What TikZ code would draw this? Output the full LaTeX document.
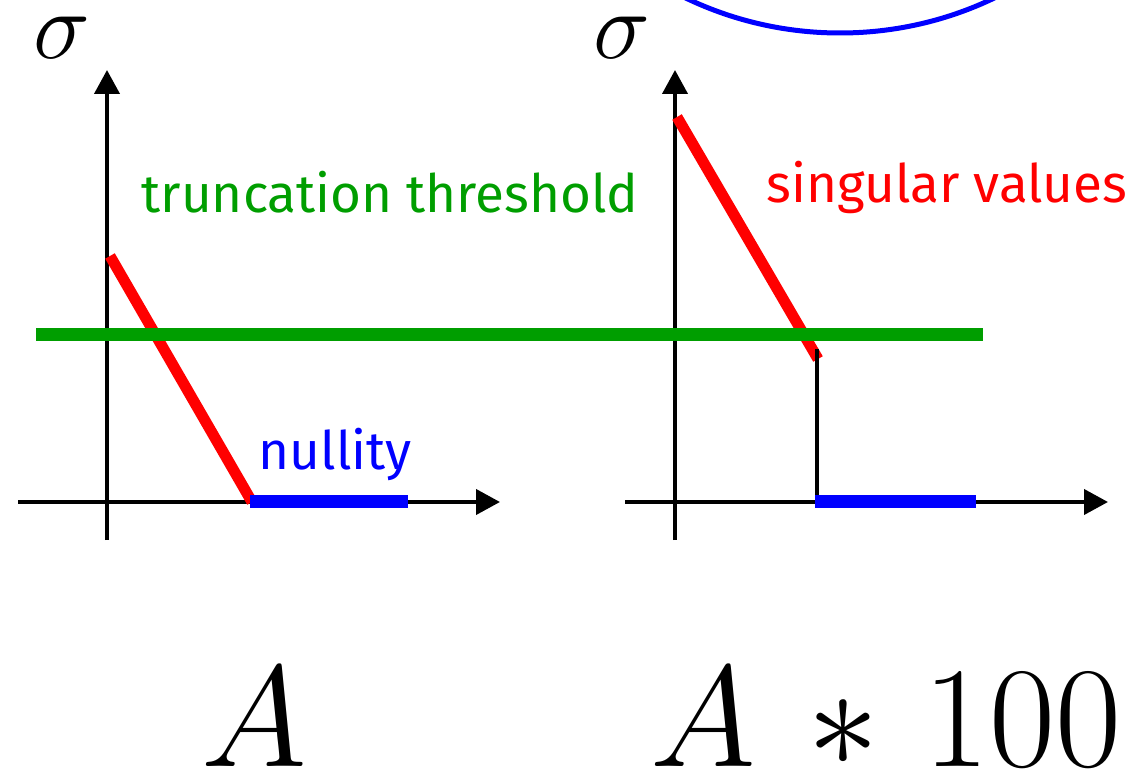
\documentclass[tikz,border=0pt]{standalone}
\usepackage{fontspec}
\setmainfont{Fira Sans}
\usepackage{xcolor}
\usepackage{tikz}
\usetikzlibrary{arrows.meta,positioning}
\definecolor{thrgreen}{RGB}{0,158,0}

\begin{document}
\begin{tikzpicture}[
  x=0.5pt, y=-0.5pt,
  axis/.style={line width=2pt, -{Triangle[length=12pt, width=12.5pt]}},
  sv/.style={red, line width=5.5pt},
  thr/.style={thrgreen, line width=6.5pt},
  nul/.style={blue, line width=6.5pt},
  lbl/.style={inner sep=0pt, anchor=base, font=\fontsize{26.5}{30}\selectfont},
  sig/.style={inner sep=0pt, anchor=base, font=\Huge, scale=1.93},
  mat/.style={inner sep=0pt, anchor=base, font=\Huge, scale=2.89}
]
  \useasboundingbox (0,0) rectangle (1128,774);
  % blue arc at the top, cut by the page edge
  \begin{scope}
    \clip (0,0) rectangle (1128,774);
    \draw[blue, line width=2.5pt] (840,-324) circle[radius=357];
  \end{scope}

  % left plot: A
  \coordinate (ly0) at (107,540);
  \coordinate (ly1) at (107,70);
  \coordinate (lx0) at (18,502);
  \coordinate (lx1) at (500,502);
  \draw[axis] (ly0) -- (ly1);
  \draw[axis] (lx0) -- (lx1);
  \coordinate (ls0) at (110,256);
  \coordinate (ls1) at (252,502);
  \draw[sv] (ls0) -- (ls1);

  % right plot: A*100
  \coordinate (ry0) at (675,540);
  \coordinate (ry1) at (675,70);
  \coordinate (rx0) at (625,502);
  \coordinate (rx1) at (1108,502);
  \draw[axis] (ry0) -- (ry1);
  \draw[axis] (rx0) -- (rx1);
  \coordinate (rs0) at (677,117);
  \coordinate (rs1) at (818,359);
  \draw[sv] (rs0) -- (rs1);
  \coordinate (rc0) at (817,349);
  \coordinate (rc1) at (817,502);
  \draw[line width=2pt] (rc0) -- (rc1);

  % threshold and nullity
  \coordinate (t0) at (36,335);
  \coordinate (t1) at (983,335);
  \draw[thr] (t0) -- (t1);
  \coordinate (ln0) at (250,501);
  \coordinate (ln1) at (408,501);
  \draw[nul] (ln0) -- (ln1);
  \coordinate (rn0) at (815,501);
  \coordinate (rn1) at (976,501);
  \draw[nul] (rn0) -- (rn1);

  % labels
  \node[sig] (lsig) at (62,59) {$\sigma$};
  \node[sig] (rsig) at (622,59) {$\sigma$};
  \node[lbl, thrgreen] (thrlbl) at (390,213) {truncation threshold};
  \node[lbl, red] (svlbl) at (947,203) {singular values};
  \node[lbl, blue] (nullbl) at (335,469) {nullity};
  \node[mat] (amat) at (254,766) {$A$};
  \node[mat] (bmat) at (886,766) {$A\mskip2.5mu*\mskip1.5mu100$};
\end{tikzpicture}
\end{document}
